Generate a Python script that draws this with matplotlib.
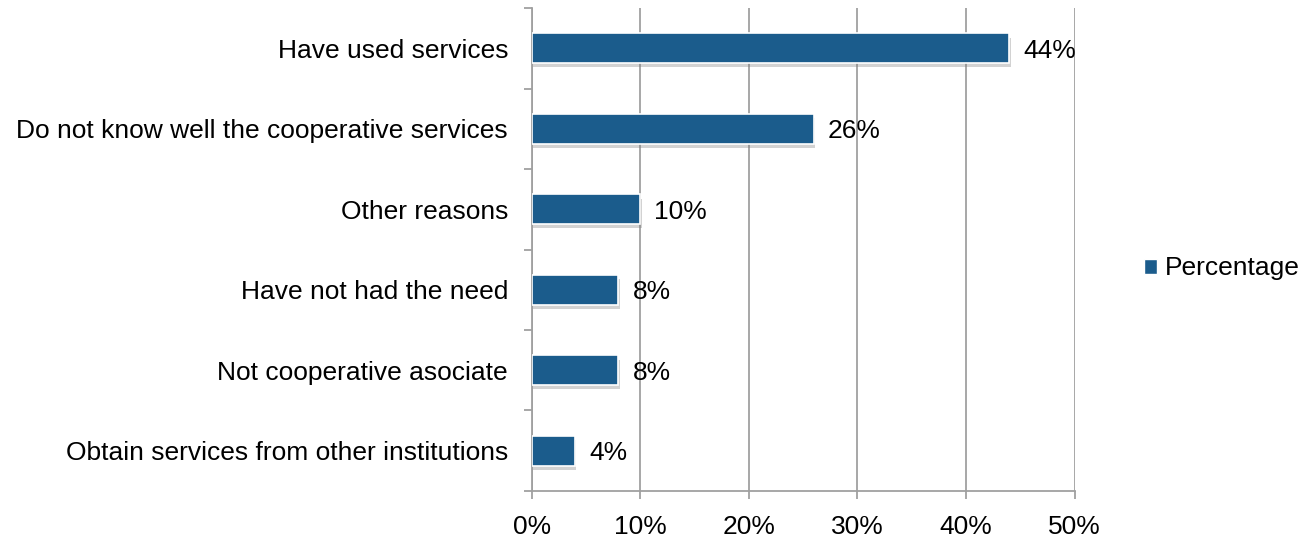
import numpy as np
import matplotlib.pyplot as plt
import matplotlib.patheffects as pe
from matplotlib.patches import Patch

categories = ["Have used services",
              "Do not know well the cooperative services",
              "Other reasons",
              "Have not had the need",
              "Not cooperative asociate",
              "Obtain services from other institutions"]
percentages = [44, 26, 10, 8, 8, 4]
x_ticks = [0, 10, 20, 30, 40, 50]

bar_color = "#1B5C8C"
grid_color = "#A0A0A0"

plt.rcParams['font.family'] = ['Liberation Sans', 'DejaVu Sans']

fig = plt.figure(figsize=(13.03, 5.37), dpi=100)
ax = fig.add_axes([0.408, 0.0857, 0.4167, 0.8993])

y = np.arange(len(categories))
bars = ax.barh(y, percentages, height=0.37, color=bar_color, edgecolor="white",
               linewidth=1.2, zorder=3)
for b in bars:
    b.set_path_effects([pe.SimplePatchShadow(offset=(1, -3), shadow_rgbFace="gray", alpha=0.35),
                        pe.Normal()])

for yi, v in zip(y, percentages):
    ax.annotate(f"{v}%", xy=(v, yi), xytext=(10, 0), textcoords="offset points",
                va="center_baseline", ha="left", fontsize=19, color="black", zorder=4)

ax.set_xlim(0, 50)
ax.set_ylim(len(categories) - 0.5, -0.5)
ax.set_xticks(x_ticks)
ax.set_xticklabels([f"{t}%" for t in x_ticks], fontsize=19)
ax.set_yticks(y)
ax.set_yticklabels(categories, fontsize=19)
ax.set_yticks(np.arange(len(categories) + 1) - 0.5, minor=True)

ax.tick_params(axis="y", which="major", length=0, pad=17)
ax.tick_params(axis="y", which="minor", length=6, color=grid_color, width=1.3)
ax.tick_params(axis="x", which="major", length=6, color=grid_color, width=1.3, pad=11)

ax.xaxis.grid(True, color=grid_color, linewidth=1.3, zorder=0)
ax.set_axisbelow(True)
for s in ["top", "right"]:
    ax.spines[s].set_visible(False)
for s in ["left", "bottom"]:
    ax.spines[s].set_color(grid_color)
    ax.spines[s].set_linewidth(1.3)

handle = Patch(facecolor=bar_color, edgecolor="white")
fig.legend([handle], ["Percentage"], loc="center left", bbox_to_anchor=(0.8595, 0.5),
           frameon=False, fontsize=19, handlelength=0.5, handleheight=0.5,
           handletextpad=0.3)

plt.savefig("out.png", dpi=100)
